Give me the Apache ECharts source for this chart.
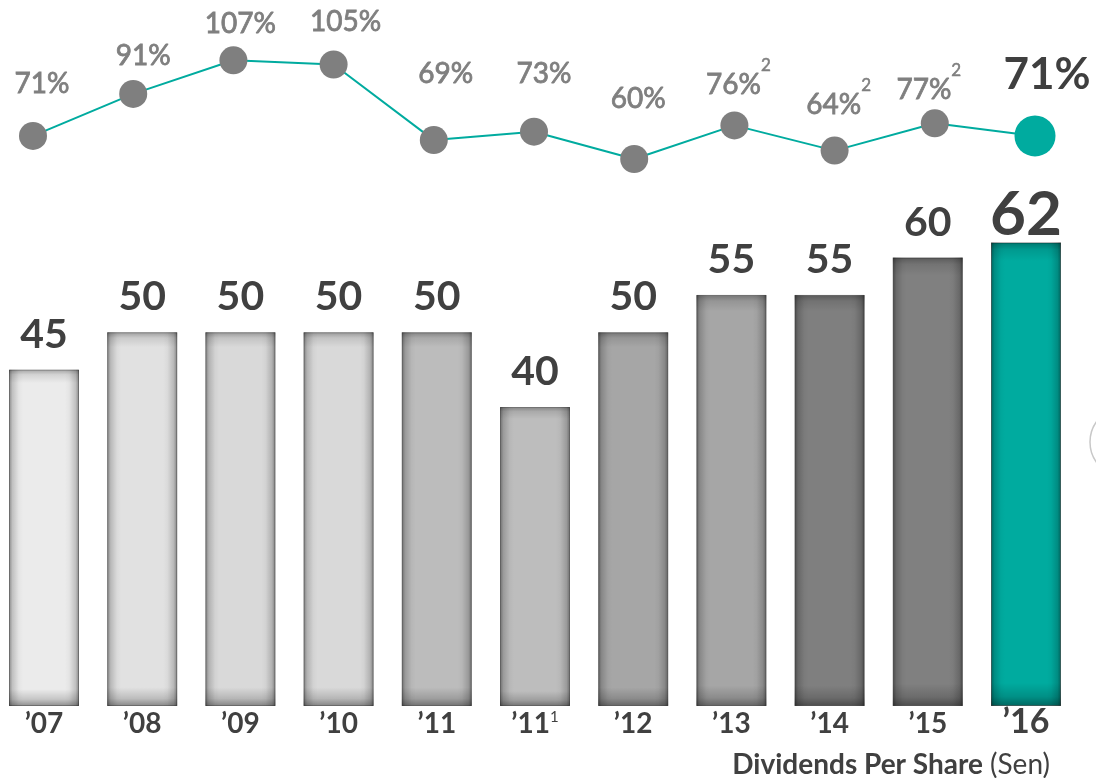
<!DOCTYPE html>
<html><head><meta charset="utf-8">
<script src="https://cdn.jsdelivr.net/npm/echarts@6/dist/echarts.min.js"></script>
<style>html,body{margin:0;padding:0;background:#fff}#c{width:1096px;height:778px}</style>
</head><body><div id="c"></div>
<script>
// ---- data ----
const years = ["\u201907","\u201908","\u201909","\u201910","\u201911","\u201911","\u201912","\u201913","\u201914","\u201915","\u201916"];
const yearNotes = ["","","","","","1","","","","",""];
const dividends = [45,50,50,50,50,40,50,55,55,60,62];
const payoutRatio = [71,91,107,105,69,73,60,76,64,77,71];
const payoutNotes = ["","","","","","","","2","2","2",""];
const chartTitle = "Dividends Per Share";
const chartUnit = "(Sen)";

// ---- styles ----
const FONT = 'Lato';
const DARK = '#404040';
const GREY = '#7f7f7f';
const TEAL = '#00ab9f';
const barColors = ['#ebebeb','#e1e1e1','#d9d9d9','#d9d9d9','#bcbcbc','#bdbdbd','#a6a6a6','#a6a6a6','#7f7f7f','#808080',TEAL];
const labelShift = [[9,-52],[10,-38],[7,-36],[12,-43],[12,-66],[10,-58],[4,-60],[4,-40],[4,-46],[-6,-33],[12,-61]];
const last = dividends.length - 1;

const cats = years.map((y, i) => {
  const v = y + yearNotes[i];
  return i === last ? {value: v, textStyle: {fontSize: 34, lineHeight: 24}} : v;
});

const barData = dividends.map((v, i) => {
  const item = {value: v, itemStyle: {color: barColors[i]}};
  if (i === last) item.label = {fontSize: 62, lineHeight: 46, distance: 5};
  return item;
});

const lineData = payoutRatio.map((v, i) => {
  const item = {value: v, label: {offset: labelShift[i]}};
  if (i === last) {
    item.symbolSize = 41;
    item.itemStyle = {color: TEAL};
    item.label = {offset: labelShift[i], fontSize: 44, fontWeight: 'bold', color: '#3f3f3f', textBorderWidth: 0};
  }
  return item;
});

const hShade = {type: 'linear', x: 0, y: 0, x2: 1, y2: 0, colorStops: [
  {offset: 0, color: 'rgba(0,0,0,0.42)'}, {offset: 0.05, color: 'rgba(0,0,0,0.18)'},
  {offset: 0.14, color: 'rgba(0,0,0,0.03)'}, {offset: 0.2, color: 'rgba(0,0,0,0)'},
  {offset: 0.8, color: 'rgba(0,0,0,0)'}, {offset: 0.86, color: 'rgba(0,0,0,0.03)'},
  {offset: 0.95, color: 'rgba(0,0,0,0.18)'}, {offset: 1, color: 'rgba(0,0,0,0.42)'}]};
const vShade = {type: 'linear', x: 0, y: 0, x2: 0, y2: 1, colorStops: [
  {offset: 0, color: 'rgba(0,0,0,0.3)'}, {offset: 0.015, color: 'rgba(0,0,0,0.1)'},
  {offset: 0.04, color: 'rgba(0,0,0,0)'}, {offset: 0.95, color: 'rgba(0,0,0,0)'},
  {offset: 0.98, color: 'rgba(0,0,0,0.16)'}, {offset: 1, color: 'rgba(0,0,0,0.4)'}]};

const chart = echarts.init(document.getElementById('c'), null, {renderer: 'canvas'});
chart.setOption({
  animation: false,
  backgroundColor: '#fff',
  textStyle: {fontFamily: FONT},
  grid: [
    {left: 44, right: 70, top: 108, bottom: 72},
    {left: 33, right: 61, top: 54, bottom: 598}
  ],
  xAxis: [
    {type: 'category', gridIndex: 0, data: cats, boundaryGap: false,
      axisLine: {show: false}, axisTick: {show: false},
      axisLabel: {interval: 0, margin: 4, fontFamily: FONT, fontSize: 28, lineHeight: 28, fontWeight: 'bold', color: DARK,
        formatter: (val, idx) => years[idx] + (yearNotes[idx] ? '{s|' + yearNotes[idx] + '}' : ''),
        rich: {s: {fontSize: 15, lineHeight: 15, verticalAlign: 'top', fontFamily: FONT, color: DARK, fontWeight: 'normal'}}}},
    {type: 'category', gridIndex: 1, data: cats, boundaryGap: false, show: false}
  ],
  yAxis: [
    {type: 'value', gridIndex: 0, min: 0, max: 80, show: false},
    {type: 'value', gridIndex: 1, min: 50, max: 110, show: false}
  ],
  series: [
    {type: 'bar', xAxisIndex: 0, yAxisIndex: 0, data: barData, barWidth: 70, z: 2,
      itemStyle: {borderColor: 'rgba(0,0,0,0.28)', borderWidth: 1},
      label: {show: true, position: 'top', distance: 15, fontFamily: FONT, fontSize: 41, lineHeight: 40, fontWeight: 'bold', color: DARK}},
    {type: 'bar', xAxisIndex: 0, yAxisIndex: 0, data: dividends, barWidth: 70, barGap: '-100%', z: 3, silent: true,
      itemStyle: {color: hShade}},
    {type: 'bar', xAxisIndex: 0, yAxisIndex: 0, data: dividends, barWidth: 70, barGap: '-100%', z: 4, silent: true,
      itemStyle: {color: vShade}},
    {type: 'line', xAxisIndex: 1, yAxisIndex: 1, data: lineData, z: 5,
      symbol: 'circle', symbolSize: 28,
      lineStyle: {color: TEAL, width: 2},
      itemStyle: {color: GREY},
      label: {show: true, position: 'inside', fontFamily: FONT, fontSize: 28, color: GREY,
        textBorderColor: GREY, textBorderWidth: 0.8,
        formatter: p => p.value + '%' + (payoutNotes[p.dataIndex] ? '{s|' + payoutNotes[p.dataIndex] + '}' : ''),
        rich: {s: {fontSize: 17, lineHeight: 56, verticalAlign: 'top', padding: [0, 0, 39, 0], fontFamily: FONT, color: GREY,
          textBorderColor: GREY, textBorderWidth: 0.5}}}}
  ],
  graphic: [
    {type: 'text', x: 1050, y: 765, style: {
      text: '{b|' + chartTitle + '}{r|' + chartUnit + '}', align: 'right', verticalAlign: 'middle',
      rich: {b: {fontFamily: FONT, fontSize: 28, fontWeight: 'bold', fill: DARK, color: DARK},
             r: {fontFamily: FONT, fontSize: 28, fill: DARK, color: DARK, padding: [0, 0, 0, 7]}}}},
    {type: 'circle', shape: {cx: 1125, cy: 442, r: 35}, style: {fill: 'none', stroke: '#c8c8c8', lineWidth: 1.5}, silent: true}
  ]
});
</script></body></html>
